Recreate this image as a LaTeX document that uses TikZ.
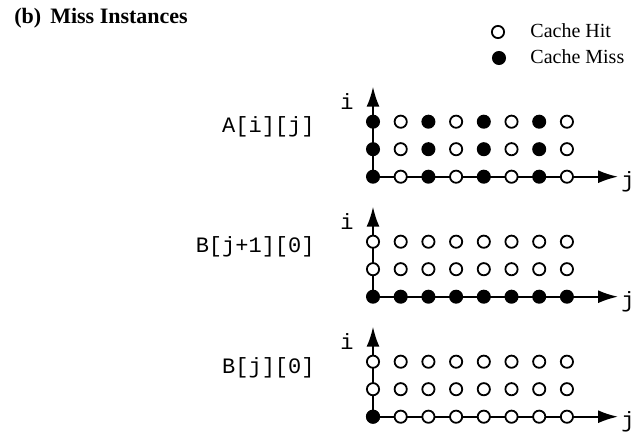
\documentclass[tikz,border=0pt]{standalone}
\usepackage{fontspec}
\setmainfont{Liberation Serif}
\setmonofont{Liberation Mono}
\usetikzlibrary{arrows.meta,positioning,calc}
\tikzset{
  hit/.style    = {circle, draw, line width=0.9pt, fill=white, minimum size=6.1pt, inner sep=0pt},
  miss/.style   = {hit, fill=black},
  axis/.style   = {-{Latex[length=10pt, width=6.5pt]}, line width=1pt},
  arrname/.style = {font=\fontsize{11}{13}\selectfont\ttfamily, inner sep=0pt},
  idx/.style    = {font=\fontsize{11}{13}\selectfont\ttfamily, inner sep=0pt},
  keytxt/.style = {font=\fontsize{10}{12}\selectfont, anchor=base west, inner sep=0pt},
}

\begin{document}
\begin{tikzpicture}
  \useasboundingbox (0,0) rectangle (317.5pt,217pt);
  % heading and key
  \node[anchor=base west, inner sep=0pt, font=\fontsize{11}{13}\selectfont\bfseries] (title)
    at (7pt,205pt) {(b)\hspace{4.5pt}Miss Instances};
  \node[hit]  (key-hit)  at (249pt,201pt) {};
  \node[miss] (key-miss) at (249.5pt,188pt) {};
  \node[keytxt] (key-hit-txt)  at (265pt,198.3pt) {Cache Hit};
  \node[keytxt] (key-miss-txt) at (265pt,185.3pt) {Cache Miss};

  % A[i][j]: every other column misses
  \coordinate (A-o) at (186.5pt,128.65pt);
  \coordinate (A-i) at ($(A-o)+(0,45pt)$);
  \coordinate (A-j) at ($(A-o)+(122.5pt,0)$);
  \draw[axis] (A-o) -- (A-i);
  \draw[axis] (A-o) -- (A-j);
  \node[idx] (A-ilbl) at ($(A-o)+(-13pt,37.5pt)$) {i};
  \node[idx, anchor=west] (A-jlbl) at ($(A-o)+(124pt,-2.5pt)$) {j};
  \node[arrname, anchor=east] (A-name) at ($(A-o)+(-29pt,25pt)$) {A[i][j]};
  \foreach \c in {0,2,4,6} \foreach \r in {0,1,2}
    \node[miss] (A-\r-\c) at ($(A-o)+(\c*13.85pt,\r*13.75pt)$) {};
  \foreach \c in {1,3,5,7} \foreach \r in {0,1,2}
    \node[hit] (A-\r-\c) at ($(A-o)+(\c*13.85pt,\r*13.75pt)$) {};

  % B[j+1][0]: bottom row misses
  \coordinate (B-o) at (186.5pt,68.65pt);
  \coordinate (B-i) at ($(B-o)+(0,45pt)$);
  \coordinate (B-j) at ($(B-o)+(122.5pt,0)$);
  \draw[axis] (B-o) -- (B-i);
  \draw[axis] (B-o) -- (B-j);
  \node[idx] (B-ilbl) at ($(B-o)+(-13pt,37.5pt)$) {i};
  \node[idx, anchor=west] (B-jlbl) at ($(B-o)+(124pt,-2.5pt)$) {j};
  \node[arrname, anchor=east] (B-name) at ($(B-o)+(-29pt,25pt)$) {B[j+1][0]};
  \foreach \c in {0,...,7} {
    \node[miss] (B-0-\c) at ($(B-o)+(\c*13.85pt,0)$) {};
    \foreach \r in {1,2}
      \node[hit] (B-\r-\c) at ($(B-o)+(\c*13.85pt,\r*13.75pt)$) {};
  }

  % B[j][0]: only the first access misses
  \coordinate (C-o) at (186.5pt,8.65pt);
  \coordinate (C-i) at ($(C-o)+(0,45pt)$);
  \coordinate (C-j) at ($(C-o)+(122.5pt,0)$);
  \draw[axis] (C-o) -- (C-i);
  \draw[axis] (C-o) -- (C-j);
  \node[idx] (C-ilbl) at ($(C-o)+(-13pt,37.5pt)$) {i};
  \node[idx, anchor=west] (C-jlbl) at ($(C-o)+(124pt,-2.5pt)$) {j};
  \node[arrname, anchor=east] (C-name) at ($(C-o)+(-29pt,24.5pt)$) {B[j][0]};
  \foreach \c in {0,...,7} \foreach \r in {0,1,2}
    \node[hit] (C-\r-\c) at ($(C-o)+(\c*13.85pt,\r*13.75pt)$) {};
  \node[miss] (C-0-0) at (C-o) {};
\end{tikzpicture}
\end{document}
